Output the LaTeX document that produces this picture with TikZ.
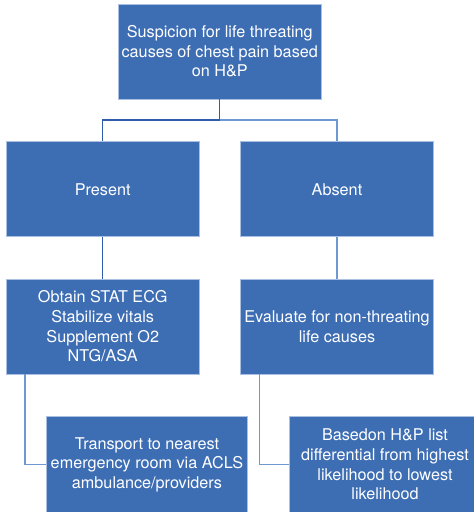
\documentclass[tikz,border=0pt]{standalone}
\usepackage{fontspec}
\setmainfont{TeX Gyre Heros}
\begin{document}
\definecolor{boxfill}{HTML}{3D6EB4}
\definecolor{boxedge}{HTML}{A9C0E2}
\definecolor{linkdark}{HTML}{2F5DA9}
\definecolor{linklight}{HTML}{6E98D0}
\tikzset{
  flowbox/.style={draw=boxedge, line width=0.6pt, fill=boxfill, text=white,
    minimum width=192.5pt, minimum height=95pt, inner sep=0pt,
    align=center, font=\fontsize{16.2}{19.6}\selectfont},
  linkd/.style={draw=linkdark, line width=1.3pt},
  linkl/.style={draw=linklight, line width=1.3pt}
}
\begin{tikzpicture}[x=1pt, y=-1pt]
  \useasboundingbox (0,0) rectangle (474,512);
  \clip (0,0) rectangle (474,512);
  % boxes
  \node[flowbox, minimum width=202.5pt] (top) at (219.75,51.5)
    {Suspicion for life threating\\causes of chest pain based\\on H\&P};
  \node[flowbox] (present) at (102.75,189.25) {Present};
  \node[flowbox] (absent) at (337,189.25) {Absent};
  \node[flowbox] (obtain) at (102.75,326.5)
    {Obtain STAT ECG\\Stabilize vitals\\Supplement O2\\NTG/ASA};
  \node[flowbox] (evaluate) at (337,326.5)
    {Evaluate for non-threating\\life causes};
  \node[flowbox, minimum width=200.5pt, minimum height=96pt] (transport) at (147,464.5)
    {Transport to nearest\\emergency room via ACLS\\ambulance/providers};
  \node[flowbox, minimum width=192pt, minimum height=96pt] (basedon) at (385,464.5)
    {Basedon H\&P list\\differential from highest\\likelihood to lowest\\likelihood};
  % connectors
  \coordinate (split) at (219.75,120);
  \draw[linkd] (top.south) -- (split);
  \draw[linkd] (split) -| (present.north);
  \draw[linkl] (split) -| (absent.north);
  \draw[linkd] (present.south) -- (obtain.north);
  \draw[linkl] (absent.south) -- (evaluate.north);
  \draw[linkl] ([xshift=-77.75pt]obtain.south) |- (transport.west);
  \draw[linkl] ([xshift=-77.75pt]evaluate.south) |- (basedon.west);
\end{tikzpicture}
\end{document}
